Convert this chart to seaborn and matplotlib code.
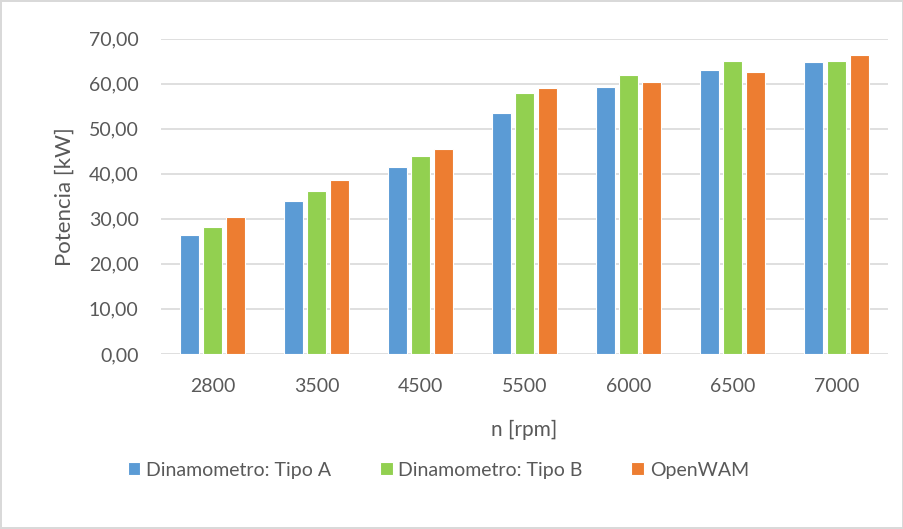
import pandas as pd
import seaborn as sns
import matplotlib.pyplot as plt
from matplotlib.ticker import FuncFormatter

# Values
rpm = ['2800', '3500', '4500', '5500', '6000', '6500', '7000']
tipo_a = [26.3, 34.0, 41.5, 53.4, 59.3, 63.0, 64.7]
tipo_b = [28.1, 36.2, 43.9, 57.9, 61.9, 65.0, 65.1]
openwam = [30.4, 38.5, 45.4, 59.0, 60.4, 62.5, 66.3]

series = ['Dinamometro: Tipo A', 'Dinamometro: Tipo B', 'OpenWAM']
colors = ['#5B9BD5', '#92D050', '#ED7D31']

df = pd.DataFrame({'rpm': rpm, series[0]: tipo_a, series[1]: tipo_b, series[2]: openwam})
long_df = df.melt(id_vars='rpm', var_name='serie', value_name='potencia')

sns.set_style('white')
plt.rcParams['font.family'] = ['Lato', 'DejaVu Sans']
text_color = '#595959'

fig = plt.figure(figsize=(9.04, 5.29), dpi=100)
fig.patch.set_edgecolor('#D9D9D9')
fig.patch.set_linewidth(1.5)
ax = fig.add_axes([0.1778, 0.331, 0.805, 0.596])

sns.barplot(data=long_df, x='rpm', y='potencia', hue='serie', hue_order=series,
            palette=colors, width=0.66, gap=0.18, edgecolor='white', linewidth=0.8,
            saturation=1, ax=ax, legend=True)

ax.set_ylim(0, 70)
ax.set_yticks(range(0, 71, 10))
ax.yaxis.set_major_formatter(FuncFormatter(lambda v, p: f'{v:.2f}'.replace('.', ',')))
ax.set_xlim(-0.5, len(rpm) - 0.5)
ax.grid(axis='y', color='#D9D9D9', linewidth=1.2)
ax.set_axisbelow(True)
for s in ax.spines.values():
    s.set_visible(False)
ax.tick_params(axis='both', length=0, labelsize=14, labelcolor=text_color)
ax.tick_params(axis='x', pad=17)
ax.tick_params(axis='y', pad=16)

ax.set_xlabel('n [rpm]', fontsize=15, color=text_color, labelpad=18)
ax.set_ylabel('Potencia [kW]', fontsize=16, color=text_color, labelpad=10)

handles, labels = ax.get_legend_handles_labels()
ax.legend(handles, labels, loc='center', bbox_to_anchor=(0.485, 0.111),
          bbox_transform=fig.transFigure, ncol=3, frameon=False,
          fontsize=14, labelcolor=text_color, handlelength=0.65,
          handleheight=0.65, handletextpad=0.3, columnspacing=2.5)

fig.savefig('out.png', dpi=100)
